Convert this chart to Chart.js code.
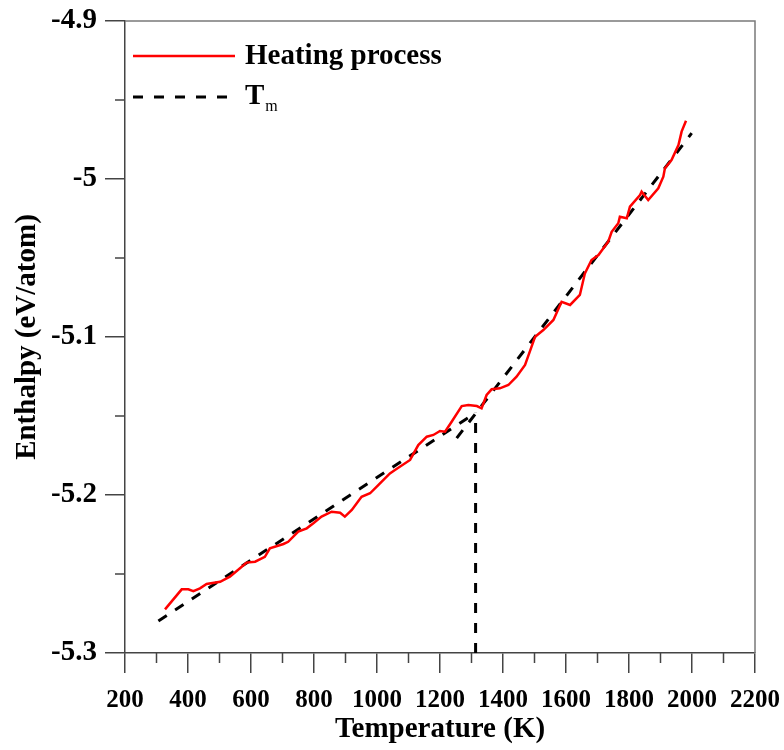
<!DOCTYPE html>
<html><head><meta charset="utf-8">
<script src="https://cdn.jsdelivr.net/npm/chart.js@4/dist/chart.umd.min.js"></script>
<style>html,body{margin:0;padding:0;background:#fff}#wrap{width:784px;height:750px}</style>
</head><body><div id="wrap"><canvas id="c" width="784" height="750"></canvas></div>
<script>
// ---- data ----
const heatingT = [327, 380, 401, 417, 438, 459, 502, 533, 565, 586, 613, 644, 660, 703, 718, 750, 777, 798, 824, 856, 883, 898, 920, 951, 978, 1004, 1041, 1057, 1105, 1131, 1158, 1179, 1200, 1216, 1237, 1269, 1290, 1317, 1332, 1348, 1364, 1390, 1417, 1443, 1470, 1502, 1528, 1560, 1586, 1613, 1644, 1660, 1681, 1703, 1734, 1745, 1766, 1771, 1793, 1803, 1835, 1840, 1861, 1893, 1909, 1914, 1935, 1957, 1967, 1981];
const heatingE = [-5.2724, -5.2597, -5.2597, -5.2608, -5.2591, -5.2563, -5.2549, -5.2517, -5.2464, -5.2428, -5.2422, -5.2391, -5.2337, -5.2310, -5.2296, -5.2232, -5.2211, -5.2179, -5.2137, -5.2106, -5.2112, -5.2137, -5.2095, -5.2011, -5.1989, -5.1937, -5.1863, -5.1842, -5.1778, -5.1684, -5.1631, -5.1620, -5.1595, -5.1599, -5.1536, -5.1437, -5.1430, -5.1437, -5.1451, -5.1367, -5.1331, -5.1325, -5.1304, -5.1251, -5.1177, -5.0998, -5.0956, -5.0892, -5.0777, -5.0797, -5.0734, -5.0597, -5.0513, -5.0481, -5.0397, -5.0334, -5.0280, -5.0239, -5.0249, -5.0175, -5.0101, -5.0080, -5.0133, -5.0059, -4.9985, -4.9932, -4.9880, -4.9785, -4.9700, -4.9631];
const solidFitT = [306, 1313];
const solidFitE = [-5.2797, -5.148];
const liquidFitT = [1253, 1999];
const liquidFitE = [-5.164, -4.971];
const tmLineT = [1313, 1313];
const tmLineE = [-5.3, -5.148];
const xTickValues = [200, 400, 600, 800, 1000, 1200, 1400, 1600, 1800, 2000, 2200];
const xMinorValues = [300, 500, 700, 900, 1100, 1300, 1500, 1700, 1900, 2100];
const yTickValues = [-4.9, -5.0, -5.1, -5.2, -5.3];
const yMinorValues = [-4.95, -5.05, -5.15, -5.25];
const xTitle = 'Temperature (K)';
const yTitle = 'Enthalpy (eV/atom)';
const legendHeating = 'Heating process';
const legendTm = ['T', 'm'];

const pts = (xs, ys) => xs.map((x, i) => ({x: x, y: ys[i]}));
const FONT = "'Liberation Serif', 'Times New Roman', serif";
const AXIS = '#444';

const decor = {
  id: 'decor',
  afterDraw(chart) {
    const ctx = chart.ctx, a = chart.chartArea;
    const xs = chart.scales.x, ys = chart.scales.y;
    ctx.save();
    // top & right frame
    ctx.strokeStyle = '#7a7a7a'; ctx.lineWidth = 1.5;
    ctx.beginPath();
    ctx.moveTo(a.left, a.top); ctx.lineTo(a.right, a.top); ctx.lineTo(a.right, a.bottom);
    ctx.stroke();
    // minor ticks
    ctx.strokeStyle = AXIS; ctx.lineWidth = 1.5;
    ctx.beginPath();
    xMinorValues.forEach(v => { const p = xs.getPixelForValue(v); ctx.moveTo(p, a.bottom); ctx.lineTo(p, a.bottom + 10); });
    yMinorValues.forEach(v => { const p = ys.getPixelForValue(v); ctx.moveTo(a.left - 10, p); ctx.lineTo(a.left, p); });
    ctx.stroke();
    // legend
    const lx = a.left + 8, tx = a.left + 120;
    const y1 = a.top + 35, y2 = a.top + 76;
    ctx.lineWidth = 2.5; ctx.strokeStyle = '#ff0000'; ctx.setLineDash([]);
    ctx.beginPath(); ctx.moveTo(lx, y1); ctx.lineTo(lx + 102, y1); ctx.stroke();
    ctx.lineWidth = 3; ctx.strokeStyle = '#000'; ctx.setLineDash([10, 11]);
    ctx.beginPath(); ctx.moveTo(lx, y2); ctx.lineTo(lx + 96, y2); ctx.stroke();
    ctx.setLineDash([]);
    ctx.fillStyle = '#000'; ctx.textBaseline = 'middle'; ctx.textAlign = 'left';
    ctx.font = "bold 29px " + FONT;
    ctx.fillText(legendHeating, tx, y1 + 1);
    ctx.fillText(legendTm[0], tx, y2);
    const w = ctx.measureText(legendTm[0]).width;
    ctx.font = "16px " + FONT;
    ctx.fillText(legendTm[1], tx + w + 1, y2 + 10);
    ctx.restore();
  }
};

new Chart(document.getElementById('c'), {
  type: 'scatter',
  data: {
    datasets: [
      {data: pts(heatingT, heatingE), showLine: true, borderColor: '#ff0000', borderWidth: 2.5, pointRadius: 0, tension: 0},
      {data: pts(solidFitT, solidFitE), showLine: true, borderColor: '#000', borderWidth: 3, borderDash: [10, 10], pointRadius: 0},
      {data: pts(liquidFitT, liquidFitE), showLine: true, borderColor: '#000', borderWidth: 3, borderDash: [10, 10], pointRadius: 0},
      {data: pts(tmLineT, tmLineE), showLine: true, borderColor: '#000', borderWidth: 3, borderDash: [10, 10], pointRadius: 0}
    ]
  },
  options: {
    responsive: false,
    animation: false,
    layout: {padding: {top: 21, right: 29, left: 0, bottom: 0}},
    plugins: {legend: {display: false}, tooltip: {enabled: false}},
    scales: {
      x: {
        type: 'linear', min: 200, max: 2200,
        afterBuildTicks: s => { s.ticks = xTickValues.map(v => ({value: v})); },
        afterFit: s => { s.height = 97; s.paddingLeft = 0; s.paddingRight = 0; },
        grid: {drawOnChartArea: false, drawTicks: true, tickLength: 20, color: AXIS, tickColor: AXIS, lineWidth: 1.5},
        border: {display: true, color: AXIS, width: 1.5},
        ticks: {color: '#000', font: {family: FONT, size: 25, weight: 'bold'}, padding: 13, maxRotation: 0, autoSkip: false,
          callback: v => String(Math.round(v))},
        title: {display: true, text: xTitle, color: '#000', font: {family: FONT, size: 29, weight: 'bold'}, padding: {top: 0, bottom: 3}}
      },
      y: {
        type: 'linear', min: -5.3, max: -4.9,
        afterBuildTicks: s => { s.ticks = yTickValues.map(v => ({value: v})); },
        afterFit: s => { s.width = 125; s.paddingTop = 0; s.paddingBottom = 0; },
        grid: {drawOnChartArea: false, drawTicks: true, tickLength: 20, color: AXIS, tickColor: AXIS, lineWidth: 1.5},
        border: {display: true, color: AXIS, width: 1.5},
        ticks: {color: '#000', font: {family: FONT, size: 29, weight: 'bold'}, padding: 8, autoSkip: false,
          callback: v => String(Math.round(v * 10) / 10)},
        title: {display: true, text: yTitle, color: '#000', font: {family: FONT, size: 29, weight: 'bold'}, padding: {top: 10, bottom: 0}}
      }
    }
  },
  plugins: [decor]
});
</script>
</body></html>
